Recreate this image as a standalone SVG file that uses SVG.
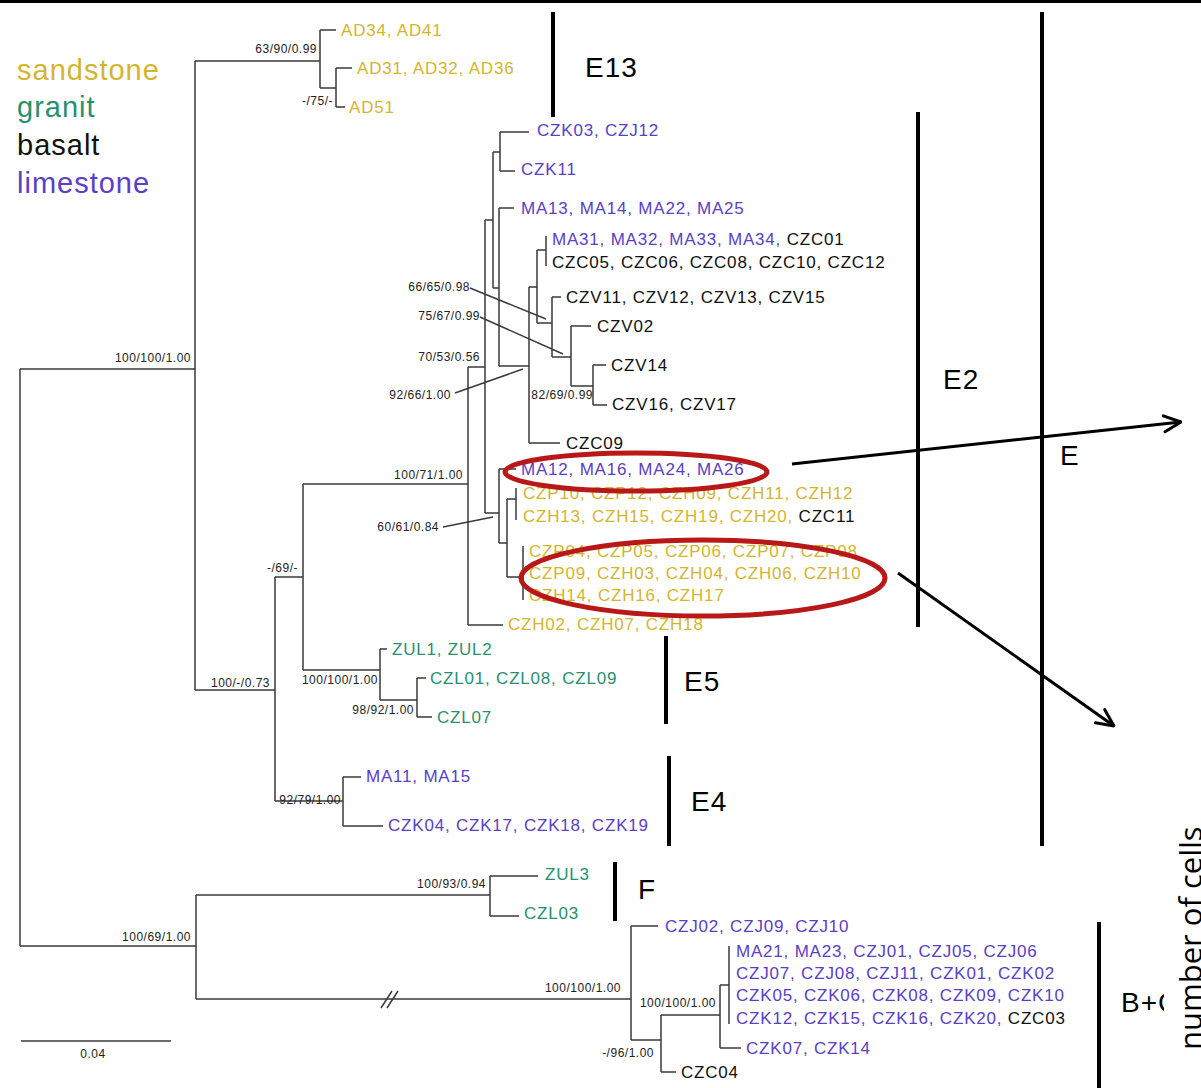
<svg xmlns="http://www.w3.org/2000/svg" width="1201" height="1088" viewBox="0 0 1201 1088">
<defs>
<style>
text{font-family:"Liberation Sans",Arial,sans-serif}
.br{stroke:#3a3a3a;stroke-width:1.5;fill:none}
.tip{font-size:17px;letter-spacing:0.8px}
.sup{font-size:12px;letter-spacing:0.5px;fill:#222;text-anchor:end}
.leg{font-size:29px;letter-spacing:1px}
.cl{font-size:28px;letter-spacing:1px;fill:#000}
.y{fill:#d4b52e}.g{fill:#2a8f6f}.p{fill:#5a40c4}.k{fill:#111}
.bar{stroke:#000;stroke-width:4}
.arr{stroke:#000;stroke-width:3;fill:none}
.ring{stroke:#b81818;stroke-width:5;fill:none}
</style>
<marker id="ah" viewBox="0 0 20 20" refX="19" refY="10" markerWidth="20" markerHeight="20" markerUnits="userSpaceOnUse" orient="auto">
<path d="M2,2 L19,10 L2,18" stroke="#000" stroke-width="3" fill="none" stroke-linecap="round" stroke-linejoin="round"/>
</marker>
<clipPath id="clipR"><rect x="0" y="0" width="1164" height="1088"/></clipPath>
</defs>
<rect width="1201" height="1088" fill="#fff"/>
<rect x="0" y="0" width="1201" height="3" fill="#000"/>

<g id="legend">
<text class="leg y" x="17" y="80">sandstone</text>
<text class="leg g" x="17" y="117">granit</text>
<text class="leg k" x="17" y="155">basalt</text>
<text class="leg p" x="17" y="193">limestone</text>
</g>

<g id="connectors">
<path class="br" d="M20,369 V946 M20,369 H195 M20,946 H196
M195,61 V690 M195,61 H320 M195,690 H275
M320,30 V88 M320,30 H336 M320,88 H336
M336,68 V107 M336,68 H352 M336,107 H345
M275,577 V801 M275,577 H303 M275,801 H343
M303,484 V670 M303,484 H468 M303,670 H380
M380,649 V700 M380,649 H387 M380,700 H417
M417,678 V717 M417,678 H426 M417,717 H432
M343,777 V826 M343,777 H361 M343,826 H383
M468,367 V625 M468,367 H485 M468,625 H503
M485,220 V513 M485,220 H493 M485,513 H499
M493,152 V288 M493,152 H500 M493,288 H499
M500,132 V171 M500,132 H529 M500,171 H515
M499,208 V366 M499,208 H514 M499,366 H529
M529,287 V443 M529,287 H537 M529,443 H560
M537,250 V323 M537,250 H546 M537,323 H552
M546,236 V266
M552,297 V357 M552,297 H561 M552,357 H571
M571,326 V386 M571,326 H591 M571,386 H593
M593,365 V405 M593,365 H606 M593,405 H607
M499,469 V543 M499,469 H516 M499,543 H507
M507,499 V577 M507,499 H516 M507,577 H523
M516,488 V520
M523,546 V600
M196,895 V999 M196,895 H490 M196,999 H631
M490,876 V916 M490,876 H538 M490,916 H519
M631,926 V1040 M631,926 H658 M631,1040 H661
M661,1015 V1072 M661,1015 H720 M661,1072 H676
M720,985 V1048 M720,985 H729 M720,1048 H741
M729,946 V1024
M381,1008 L392,991 M387,1008 L398,991
M470,288 L546,319 M480,317 L563,354 M455,393 L523,369 M443,527 L493,517"/>
<line class="arr" x1="792" y1="464" x2="1181" y2="422" marker-end="url(#ah)"/>
<line class="arr" x1="898" y1="573" x2="1114" y2="726" marker-end="url(#ah)"/>
</g>

<g id="scale">
<path class="br" d="M21,1041 H171"/>
<text class="sup" style="text-anchor:middle" x="93" y="1058">0.04</text>
</g>

<g id="supports">
<text class="sup" x="317" y="53">63/90/0.99</text>
<text class="sup" x="333" y="105">-/75/-</text>
<text class="sup" x="191" y="362">100/100/1.00</text>
<text class="sup" x="470" y="291">66/65/0.98</text>
<text class="sup" x="480" y="320">75/67/0.99</text>
<text class="sup" x="480" y="361">70/53/0.56</text>
<text class="sup" x="451" y="399">92/66/1.00</text>
<text class="sup" x="593" y="399">82/69/0.99</text>
<text class="sup" x="463" y="479">100/71/1.00</text>
<text class="sup" x="439" y="531">60/61/0.84</text>
<text class="sup" x="298" y="572">-/69/-</text>
<text class="sup" x="378" y="684">100/100/1.00</text>
<text class="sup" x="270" y="687">100/-/0.73</text>
<text class="sup" x="414" y="714">98/92/1.00</text>
<text class="sup" x="341" y="804">92/79/1.00</text>
<text class="sup" x="486" y="888">100/93/0.94</text>
<text class="sup" x="191" y="941">100/69/1.00</text>
<text class="sup" x="621" y="992">100/100/1.00</text>
<text class="sup" x="716" y="1007">100/100/1.00</text>
<text class="sup" x="654" y="1057">-/96/1.00</text>
</g>

<g id="tips">
<g id="t-ad34"><text class="tip y" x="341" y="36">AD34, AD41</text></g>
<g id="t-ad31"><text class="tip y" x="357" y="74">AD31, AD32, AD36</text></g>
<g id="t-ad51"><text class="tip y" x="349" y="113">AD51</text></g>
<g id="t-czk03"><text class="tip p" x="537" y="136">CZK03, CZJ12</text></g>
<g id="t-czk11"><text class="tip p" x="521" y="175">CZK11</text></g>
<g id="t-ma13"><text class="tip p" x="521" y="214">MA13, MA14, MA22, MA25</text></g>
<g id="t-ma31"><text class="tip" x="552" y="245"><tspan class="p">MA31, MA32, MA33, MA34, </tspan><tspan class="k">CZC01</tspan></text></g>
<g id="t-czc05"><text class="tip k" x="552" y="268">CZC05, CZC06, CZC08, CZC10, CZC12</text></g>
<g id="t-czv11"><text class="tip k" x="566" y="303">CZV11, CZV12, CZV13, CZV15</text></g>
<g id="t-czv02"><text class="tip k" x="597" y="332">CZV02</text></g>
<g id="t-czv14"><text class="tip k" x="611" y="371">CZV14</text></g>
<g id="t-czv16"><text class="tip k" x="612" y="410">CZV16, CZV17</text></g>
<g id="t-czc09"><text class="tip k" x="566" y="449">CZC09</text></g>
<g id="t-ma12"><text class="tip p" x="521" y="475">MA12, MA16, MA24, MA26</text></g>
<g id="t-czp10"><text class="tip y" x="523" y="499">CZP10, CZP12, CZH09, CZH11, CZH12</text></g>
<g id="t-czh13"><text class="tip" x="523" y="522"><tspan class="y">CZH13, CZH15, CZH19, CZH20, </tspan><tspan class="k">CZC11</tspan></text></g>
<g id="t-czp04"><text class="tip y" x="529" y="557">CZP04, CZP05, CZP06, CZP07, CZP08</text></g>
<g id="t-czp09"><text class="tip y" x="529" y="579">CZP09, CZH03, CZH04, CZH06, CZH10</text></g>
<g id="t-czh14"><text class="tip y" x="529" y="601">CZH14, CZH16, CZH17</text></g>
<g id="t-czh02"><text class="tip y" x="508" y="630">CZH02, CZH07, CZH18</text></g>
<g id="t-zul1"><text class="tip g" x="392" y="655">ZUL1, ZUL2</text></g>
<g id="t-czl01"><text class="tip g" x="430" y="684">CZL01, CZL08, CZL09</text></g>
<g id="t-czl07"><text class="tip g" x="437" y="723">CZL07</text></g>
<g id="t-ma11"><text class="tip p" x="366" y="782">MA11, MA15</text></g>
<g id="t-czk04"><text class="tip p" x="388" y="831">CZK04, CZK17, CZK18, CZK19</text></g>
<g id="t-zul3"><text class="tip g" x="545" y="880">ZUL3</text></g>
<g id="t-czl03"><text class="tip g" x="524" y="919">CZL03</text></g>
<g id="t-czj02"><text class="tip p" x="665" y="932">CZJ02, CZJ09, CZJ10</text></g>
<g id="t-ma21"><text class="tip p" x="736" y="957">MA21, MA23, CZJ01, CZJ05, CZJ06</text></g>
<g id="t-czj07"><text class="tip p" x="736" y="979">CZJ07, CZJ08, CZJ11, CZK01, CZK02</text></g>
<g id="t-czk05"><text class="tip p" x="736" y="1001">CZK05, CZK06, CZK08, CZK09, CZK10</text></g>
<g id="t-czk12"><text class="tip" x="736" y="1024"><tspan class="p">CZK12, CZK15, CZK16, CZK20, </tspan><tspan class="k">CZC03</tspan></text></g>
<g id="t-czk07"><text class="tip p" x="746" y="1054">CZK07, CZK14</text></g>
<g id="t-czc04"><text class="tip k" x="681" y="1078">CZC04</text></g>
</g>

<g id="rings">
<ellipse class="ring" cx="636" cy="472" rx="131" ry="19"/>
<ellipse class="ring" cx="703" cy="578" rx="182" ry="38"/>
</g>

<g id="clades">
<g id="c-e13"><line class="bar" x1="553" y1="12" x2="553" y2="117"/><text class="cl" x="585" y="77">E13</text></g>
<g id="c-e2"><line class="bar" x1="918" y1="112" x2="918" y2="627"/><text class="cl" x="943" y="389">E2</text></g>
<g id="c-e"><line class="bar" x1="1042" y1="12" x2="1042" y2="846"/><text class="cl" x="1060" y="465">E</text></g>
<g id="c-e5"><line class="bar" x1="666" y1="636" x2="666" y2="724"/><text class="cl" x="684" y="691">E5</text></g>
<g id="c-e4"><line class="bar" x1="669" y1="756" x2="669" y2="846"/><text class="cl" x="691" y="811">E4</text></g>
<g id="c-f"><line class="bar" x1="615" y1="862" x2="615" y2="921"/><text class="cl" x="638" y="899">F</text></g>
<g id="c-bc"><line class="bar" x1="1099" y1="922" x2="1099" y2="1088"/><text class="cl" x="1121" y="1012" clip-path="url(#clipR)">B+C</text></g>
</g>

<g id="axis">
<text x="1202" y="1050" transform="rotate(-90 1202 1050)" style="font-family:'Open Sans','Liberation Sans',sans-serif;font-size:31px;fill:#000">number of cells</text>
</g>
</svg>
